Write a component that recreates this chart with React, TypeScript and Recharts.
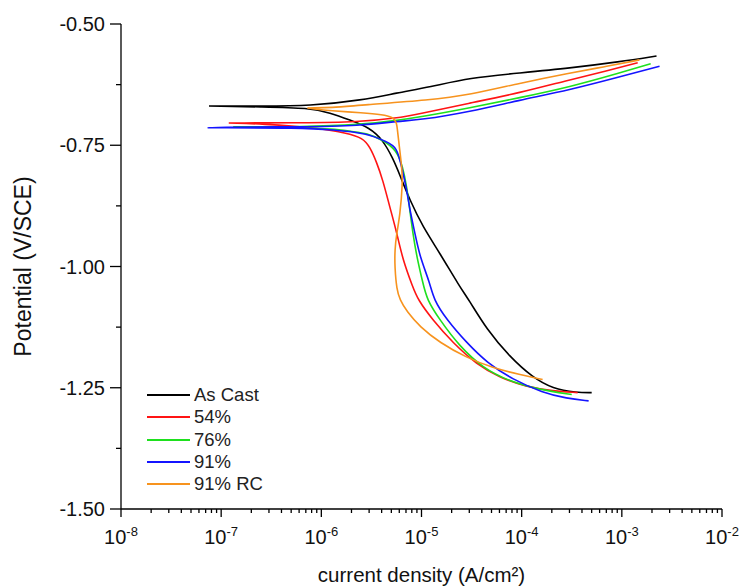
import { LineChart, Line, XAxis, YAxis, Legend } from "recharts";

// [current density (A/cm2), potential (V/SCE)], cathodic end -> anodic end
const asCast: [number, number][] = [
  [5.0e-4, -1.26], [3.54e-4, -1.26], [2.04e-4, -1.252], [1.29e-4, -1.229], [7.59e-5, -1.186],
  [4.48e-5, -1.13], [2.96e-5, -1.068], [2.41e-5, -1.042], [1.52e-5, -0.972], [1.03e-5, -0.918],
  [7.64e-6, -0.863], [6.07e-6, -0.811], [5.16e-6, -0.776], [4.1e-6, -0.739], [3.05e-6, -0.714],
  [1.92e-6, -0.698], [1.22e-6, -0.683], [7.67e-7, -0.673], [2.44e-7, -0.671], [8.67e-8, -0.669],
  [7.05e-8, -0.669], [8.67e-8, -0.669], [2.44e-7, -0.669], [7.67e-7, -0.669], [2.59e-6, -0.657],
  [5.66e-6, -0.642], [1.21e-5, -0.63], [3.03e-5, -0.611], [9.55e-5, -0.601], [3.01e-4, -0.591],
  [9.51e-4, -0.578], [2.22e-3, -0.566],
];
const rolled54: [number, number][] = [
  [3.62e-4, -1.26], [1.9e-4, -1.256], [1.12e-4, -1.248], [6.04e-5, -1.229], [3.56e-5, -1.202],
  [2.05e-5, -1.157], [1.29e-5, -1.11], [9.18e-6, -1.068], [8.18e-6, -1.042], [6.5e-6, -0.986],
  [5.66e-6, -0.93], [4.82e-6, -0.877], [4.1e-6, -0.821], [3.58e-6, -0.786], [3.05e-6, -0.753],
  [2.59e-6, -0.735], [1.79e-6, -0.725], [9.02e-7, -0.714], [2.44e-7, -0.706], [1.37e-7, -0.704],
  [1.11e-7, -0.704], [1.37e-7, -0.704], [6.11e-7, -0.704], [2.42e-6, -0.702], [5.66e-6, -0.694],
  [9.62e-6, -0.685], [3.03e-5, -0.663], [9.55e-5, -0.642], [3.01e-4, -0.615], [6.43e-4, -0.599],
  [1.44e-3, -0.58],
];
const rolled76: [number, number][] = [
  [3.16e-4, -1.264], [1.51e-4, -1.254], [7.59e-5, -1.237], [4.08e-5, -1.209], [2.41e-5, -1.165],
  [1.52e-5, -1.11], [1.13e-5, -1.068], [1.03e-5, -1.033], [8.97e-6, -0.98], [8.18e-6, -0.93],
  [7.64e-6, -0.883], [7.13e-6, -0.836], [6.5e-6, -0.795], [5.66e-6, -0.76], [4.1e-6, -0.739],
  [2.84e-6, -0.725], [2.06e-6, -0.722], [1.3e-6, -0.716], [6.11e-7, -0.714], [1.54e-7, -0.712],
  [1.22e-7, -0.712], [1.54e-7, -0.712], [6.11e-7, -0.712], [2.42e-6, -0.708], [6.07e-6, -0.698],
  [9.62e-6, -0.692], [3.03e-5, -0.673], [9.55e-5, -0.652], [3.01e-4, -0.63], [9.51e-4, -0.601],
  [1.94e-3, -0.582],
];
const rolled91: [number, number][] = [
  [4.66e-4, -1.277], [2.81e-4, -1.272], [1.62e-4, -1.26], [8.13e-5, -1.233], [4.48e-5, -1.198],
  [2.82e-5, -1.157], [1.79e-5, -1.11], [1.32e-5, -1.068], [1.21e-5, -1.033], [9.62e-6, -0.98],
  [8.57e-6, -0.93], [7.64e-6, -0.883], [7.13e-6, -0.842], [6.35e-6, -0.795], [5.66e-6, -0.753],
  [4.5e-6, -0.743], [2.84e-6, -0.725], [1.3e-6, -0.718], [6.11e-7, -0.714], [8.47e-8, -0.714],
  [6.89e-8, -0.714], [8.47e-8, -0.713], [6.11e-7, -0.712], [2.42e-6, -0.71], [6.07e-6, -0.7],
  [9.62e-6, -0.698], [3.03e-5, -0.681], [9.55e-5, -0.657], [3.01e-4, -0.636], [9.51e-4, -0.609],
  [2.38e-3, -0.587],
];
const rolled91RC: [number, number][] = [
  [1.62e-4, -1.233], [9.55e-5, -1.223], [5.14e-5, -1.209], [2.82e-5, -1.188], [1.52e-5, -1.157],
  [9.62e-6, -1.124], [7.13e-6, -1.093], [6.07e-6, -1.068], [5.66e-6, -1.048], [5.41e-6, -1.001],
  [5.41e-6, -0.966], [5.66e-6, -0.93], [6.07e-6, -0.898], [6.5e-6, -0.828], [6.35e-6, -0.795],
  [6.07e-6, -0.76], [5.79e-6, -0.725], [5.66e-6, -0.702], [5.16e-6, -0.692], [4.1e-6, -0.687],
  [2.59e-6, -0.683], [1.22e-6, -0.679], [8.22e-7, -0.675], [6.84e-7, -0.673], [8.22e-7, -0.673],
  [1.22e-6, -0.673], [2.59e-6, -0.667], [1.21e-5, -0.657], [3.03e-5, -0.646], [9.55e-5, -0.622],
  [3.01e-4, -0.601], [6.43e-4, -0.589], [1.5e-3, -0.574],
];

const seriesNames = ["As Cast", "54%", "76%", "91%", "91% RC"];
const seriesColors = ["#000000", "#ff1414", "#1ee01e", "#1414ff", "#f7931e"];
const seriesData = [asCast, rolled54, rolled76, rolled91, rolled91RC];

const xMajorTicks = [1e-8, 1e-7, 1e-6, 1e-5, 1e-4, 1e-3, 1e-2];
const xMinorMultipliers = [2, 3, 4, 5, 6, 7, 8, 9];
const yMajorTicks = [-1.5, -1.25, -1.0, -0.75, -0.5];
const yMinorTicks = [-1.375, -1.125, -0.875, -0.625];

const xTicks = [
  ...xMajorTicks,
  ...xMajorTicks.slice(0, -1).flatMap((t) => xMinorMultipliers.map((m) => m * t)),
].sort((a, b) => a - b);
const yTicks = [...yMajorTicks, ...yMinorTicks].sort((a, b) => a - b);

const FONT = "'Liberation Sans', Arial, sans-serif";

const XTick = (props: any) => {
  const { x, y, payload } = props;
  const v = payload.value;
  const exp = Math.round(Math.log10(v));
  const major = Math.abs(Math.log10(v) - exp) < 1e-6;
  return (
    <g>
      <line x1={x} x2={x} y1={y} y2={y + (major ? 8 : 4)} stroke="#000" strokeWidth={1.3} />
      {major && (
        <text x={x} y={y + 35} textAnchor="middle" fontFamily={FONT} fontSize={20} fill="#111">
          10
          <tspan dy={-8} fontSize={13}>
            {exp}
          </tspan>
        </text>
      )}
    </g>
  );
};

const YTick = (props: any) => {
  const { x, y, payload } = props;
  const v = payload.value;
  const major = Math.abs(v * 4 - Math.round(v * 4)) < 1e-9;
  return (
    <g>
      <line x1={x - (major ? 11 : 5)} x2={x} y1={y} y2={y} stroke="#000" strokeWidth={1.3} />
      {major && (
        <text x={x - 16} y={y} textAnchor="end" dominantBaseline="central" fontFamily={FONT} fontSize={20} fill="#111">
          {v.toFixed(2)}
        </text>
      )}
    </g>
  );
};

const YTitle = (props: any) => {
  const vb = props.viewBox;
  const cx = 23;
  const cy = vb.y + vb.height / 2;
  return (
    <text x={cx} y={cy} transform={`rotate(-90 ${cx} ${cy})`} textAnchor="middle" dominantBaseline="central"
      fontFamily={FONT} fontSize={23} fill="#111">
      Potential (V/SCE)
    </text>
  );
};

const XTitle = (props: any) => {
  const vb = props.viewBox;
  const cx = vb.x + vb.width / 2;
  return (
    <text x={cx} y={582} textAnchor="middle" fontFamily={FONT} fontSize={20.5} fill="#111">
      current density (A/cm²)
    </text>
  );
};

const LegendBox = () => (
  <div style={{ fontFamily: FONT, fontSize: 18.5, color: "#222" }}>
    {seriesNames.map((n, i) => (
      <div key={n} style={{ display: "flex", alignItems: "center", height: 22.3 }}>
        <svg width={43} height={4} style={{ marginRight: 4 }}>
          <line x1={0} x2={43} y1={2} y2={2} stroke={seriesColors[i]} strokeWidth={2} />
        </svg>
        <span style={{ lineHeight: "22px" }}>{n}</span>
      </div>
    ))}
  </div>
);

export default function App() {
  return (
    <div style={{ position: "absolute", left: 0, top: 0, background: "#fff" }}>
      <LineChart width={743} height={587} margin={{ top: 24, right: 21, bottom: 0, left: 0 }}>
        <XAxis
          dataKey="j"
          type="number"
          scale="log"
          domain={[1e-8, 1e-2]}
          allowDataOverflow
          ticks={xTicks}
          interval={0}
          tick={<XTick />}
          tickLine={false}
          tickSize={0}
          tickMargin={0}
          height={78}
          axisLine={{ stroke: "#000", strokeWidth: 1.3 }}
          label={<XTitle />}
        />
        <YAxis
          type="number"
          domain={[-1.5, -0.5]}
          ticks={yTicks}
          interval={0}
          tick={<YTick />}
          tickLine={false}
          tickSize={0}
          tickMargin={0}
          width={121}
          axisLine={{ stroke: "#000", strokeWidth: 1.3 }}
          label={<YTitle />}
        />
        <Legend
          layout="horizontal"
          align="center"
          verticalAlign="middle"
          wrapperStyle={{ left: 147, top: 384, width: 160 }}
          content={<LegendBox />}
        />
        {seriesData.map((d, i) => (
          <Line
            key={seriesNames[i]}
            name={seriesNames[i]}
            data={d.map(([j, e]) => ({ j, e }))}
            dataKey="e"
            type="basis"
            stroke={seriesColors[i]}
            strokeWidth={1.6}
            dot={false}
            isAnimationActive={false}
          />
        ))}
      </LineChart>
    </div>
  );
}
